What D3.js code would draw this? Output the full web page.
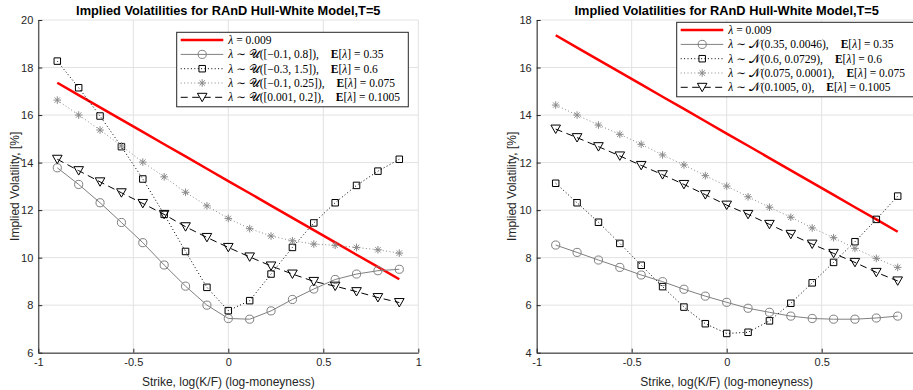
<!DOCTYPE html>
<html>
<head>
<meta charset="utf-8">
<script src="https://cdn.jsdelivr.net/npm/d3@7"></script>
<style>
  body { margin: 0; background: #fff; }
  svg { display: block; }
</style>
</head>
<body>
<div id="chart"></div>
<script>
// log-moneyness strikes, shared by every curve
const strikes = [-0.9, -0.7875, -0.675, -0.5625, -0.45, -0.3375, -0.225, -0.1125, 0,
  0.1125, 0.225, 0.3375, 0.45, 0.5625, 0.675, 0.7875, 0.9];

// lambda = 0.009 (same in both panels)
const constLambda = [17.36, 16.84, 16.32, 15.81, 15.29, 14.77, 14.26, 13.74, 13.22,
  12.71, 12.19, 11.67, 11.16, 10.64, 10.12, 9.61, 9.09];

// left panel: uniform distributions
const uniCircle = [13.78, 13.08, 12.31, 11.48, 10.63, 9.69, 8.80, 8.00, 7.44,
  7.41, 7.76, 8.24, 8.68, 9.08, 9.31, 9.45, 9.51];
const uniSquare = [18.27, 17.15, 15.96, 14.67, 13.31, 11.82, 10.26, 8.75, 7.77,
  8.19, 9.31, 10.43, 11.46, 12.31, 13.04, 13.64, 14.14];
const uniStar = [16.63, 16.00, 15.37, 14.70, 14.02, 13.40, 12.75, 12.18, 11.65,
  11.22, 10.91, 10.71, 10.57, 10.52, 10.43, 10.33, 10.19];
const uniTriangle = [14.14, 13.66, 13.19, 12.73, 12.28, 11.82, 11.30, 10.85, 10.43,
  10.03, 9.65, 9.31, 9.00, 8.80, 8.57, 8.32, 8.11];

// right panel: normal distributions
const normCircle = [8.53, 8.22, 7.90, 7.59, 7.27, 6.99, 6.67, 6.38, 6.12,
  5.87, 5.70, 5.54, 5.44, 5.41, 5.41, 5.46, 5.54];
const normSquare = [11.13, 10.31, 9.49, 8.60, 7.68, 6.78, 5.92, 5.22, 4.81,
  4.86, 5.34, 6.08, 6.94, 7.80, 8.67, 9.61, 10.59];
const normStar = [14.42, 14.00, 13.58, 13.19, 12.77, 12.32, 11.90, 11.45, 11.01,
  10.56, 10.12, 9.70, 9.25, 8.84, 8.39, 7.97, 7.59];
const normTriangle = [13.41, 13.05, 12.67, 12.28, 11.88, 11.49, 11.08, 10.65, 10.21,
  9.82, 9.40, 8.98, 8.57, 8.18, 7.80, 7.38, 7.02];

const xTicks = [-1, -0.5, 0, 0.5, 1];
const leftXTickLabels = ['-1', '-0.5', '0', '0.5', '1'];
// the right panel's last label falls outside the picture
const rightXTickLabels = ['-1', '-0.5', '0', '0.5', ''];
const leftYTicks = [6, 8, 10, 12, 14, 16, 18, 20];
const rightYTicks = [4, 6, 8, 10, 12, 14, 16, 18];

const leftDists = ['𝒰([−0.1, 0.8]),', '𝒰([−0.3, 1.5]),', '𝒰([−0.1, 0.25]),', '𝒰([0.001, 0.2]),'];
const rightDists = ['𝒩(0.35, 0.0046),', '𝒩(0.6, 0.0729),', '𝒩(0.075, 0.0001),', '𝒩(0.1005, 0),'];
const means = ['0.35', '0.6', '0.075', '0.1005'];
const constLabel = '0.009';

const titleText = 'Implied Volatilities for RAnD Hull-White Model,T=5';
const xLabel = 'Strike, log(K/F) (log-moneyness)';
const yLabel = 'Implied Volatility, [%]';

const width = 913, height = 390;
const axisColor = '#262626';
const gridColor = '#e2e2e2';

const svg = d3.select('#chart').append('svg')
  .attr('width', width)
  .attr('height', height)
  .style('font-family', '"Liberation Sans", Arial, sans-serif');

// marker shapes
function markerPath(kind) {
  if (kind === 'circle') return d3.symbol(d3.symbolCircle, 52)();
  if (kind === 'square') return d3.symbol(d3.symbolSquare, 42)();
  if (kind === 'star') {
    const r = 3.8, p = d3.path();
    [0, 45, 90, 135].forEach(a => {
      const t = a * Math.PI / 180;
      p.moveTo(-r * Math.cos(t), -r * Math.sin(t));
      p.lineTo(r * Math.cos(t), r * Math.sin(t));
    });
    return p.toString();
  }
  // downward triangle
  const p = d3.path();
  p.moveTo(-4.8, -4); p.lineTo(4.8, -4); p.lineTo(0, 4.4); p.closePath();
  return p.toString();
}

const styles = [
  { color: '#ff0000', width: 2.5, dash: null, marker: null },
  { color: '#808080', width: 1, dash: null, marker: 'circle' },
  { color: '#000000', width: 1, dash: '1,2.4', marker: 'square' },
  { color: '#8a8a8a', width: 1, dash: '1,2.4', marker: 'star' },
  { color: '#000000', width: 1, dash: '7,4.5', marker: 'triangle' }
];

function drawPanel(opts) {
  const g = svg.append('g');
  const x = d3.scaleLinear().domain([-1, 1]).range(opts.xRange);
  const y = d3.scaleLinear().domain(opts.yDomain).range([352.7, 20]);
  const [x0, x1] = opts.xRange;

  // grid
  g.append('g').selectAll('line')
    .data(xTicks)
    .enter().append('line')
    .attr('x1', d => x(d)).attr('x2', d => x(d))
    .attr('y1', y.range()[0]).attr('y2', y.range()[1])
    .attr('stroke', gridColor).attr('stroke-width', 1);
  g.append('g').selectAll('line')
    .data(opts.yTicks)
    .enter().append('line')
    .attr('x1', x0).attr('x2', x1)
    .attr('y1', d => y(d)).attr('y2', d => y(d))
    .attr('stroke', gridColor).attr('stroke-width', 1);

  // axes
  const xAxis = g.append('g')
    .attr('transform', `translate(0,${y.range()[0]})`)
    .call(d3.axisBottom(x).tickValues(xTicks)
      .tickFormat((d, i) => opts.xTickLabels[i])
      .tickSizeInner(-4).tickSizeOuter(0).tickPadding(6));
  const yAxis = g.append('g')
    .attr('transform', `translate(${x0},0)`)
    .call(d3.axisLeft(y).tickValues(opts.yTicks)
      .tickFormat(d => String(d))
      .tickSizeInner(-4).tickSizeOuter(0).tickPadding(5));
  [xAxis, yAxis].forEach(a => {
    a.select('.domain').attr('stroke', axisColor).attr('stroke-width', 1);
    a.selectAll('.tick line').attr('stroke', axisColor);
    a.selectAll('.tick text').attr('fill', axisColor)
      .style('font-size', '11px')
      .style('font-family', '"Liberation Sans", Arial, sans-serif');
  });

  // labels
  const cx = (x0 + x1) / 2;
  g.append('text')
    .attr('x', cx).attr('y', 14.5)
    .attr('text-anchor', 'middle')
    .style('font-size', '12.8px').style('font-weight', 'bold')
    .text(titleText);
  g.append('text')
    .attr('x', cx).attr('y', 386)
    .attr('text-anchor', 'middle')
    .attr('fill', axisColor)
    .style('font-size', '12px')
    .text(xLabel);
  g.append('text')
    .attr('transform', `translate(${opts.yLabelX},${(y.range()[0] + y.range()[1]) / 2}) rotate(-90)`)
    .attr('text-anchor', 'middle')
    .attr('fill', axisColor)
    .style('font-size', '12px')
    .text(yLabel);

  // series
  const line = d3.line().x((d, i) => x(strikes[i])).y(d => y(d));
  opts.series.forEach((vals, k) => {
    const st = styles[k];
    g.append('path')
      .datum(vals)
      .attr('d', line)
      .attr('fill', 'none')
      .attr('stroke', st.color)
      .attr('stroke-width', st.width)
      .attr('stroke-dasharray', st.dash);
    if (st.marker) {
      g.append('g').selectAll('path')
        .data(vals)
        .enter().append('path')
        .attr('transform', (d, i) => `translate(${x(strikes[i])},${y(d)})`)
        .attr('d', markerPath(st.marker))
        .attr('fill', 'none')
        .attr('stroke', st.color)
        .attr('stroke-width', 1);
    }
  });

  // legend
  const lg = g.append('g').attr('transform', `translate(${opts.legend.x},${opts.legend.y})`);
  lg.append('rect')
    .attr('width', opts.legend.w).attr('height', 74.5)
    .attr('fill', '#fff')
    .attr('stroke', axisColor).attr('stroke-width', 1);
  const rows = [null].concat(opts.dists);
  rows.forEach((dist, k) => {
    const st = styles[k];
    const ry = 7.8 + k * 14.3;
    lg.append('line')
      .attr('x1', 4).attr('x2', 46.6)
      .attr('y1', ry).attr('y2', ry)
      .attr('stroke', st.color)
      .attr('stroke-width', st.width)
      .attr('stroke-dasharray', st.dash);
    if (st.marker) {
      lg.append('path')
        .attr('transform', `translate(25.5,${ry})`)
        .attr('d', markerPath(st.marker))
        .attr('fill', st.marker === 'triangle' ? '#fff' : 'none')
        .attr('stroke', st.color);
    }
    const t = lg.append('text')
      .attr('x', 51.6).attr('y', ry + 4)
      .style('font-family', '"Liberation Serif", "DejaVu Serif", serif')
      .style('font-size', '11.5px')
      .attr('fill', '#000');
    t.append('tspan').style('font-style', 'italic').text('λ');
    if (dist === null) {
      t.append('tspan').text(' = ' + constLabel);
    } else {
      t.append('tspan').text(' ∼ ' + dist);
      t.append('tspan').attr('dx', 12).style('font-weight', 'bold').text('E');
      t.append('tspan').text('[');
      t.append('tspan').style('font-style', 'italic').text('λ');
      t.append('tspan').text('] = ' + means[k - 1]);
    }
  });
}

drawPanel({
  xRange: [38.3, 418.3],
  yDomain: [6, 20],
  yTicks: leftYTicks,
  xTickLabels: leftXTickLabels,
  yLabelX: 19,
  series: [constLambda, uniCircle, uniSquare, uniStar, uniTriangle],
  dists: leftDists,
  legend: { x: 176.7, y: 32.3, w: 231.6 }
});

drawPanel({
  xRange: [536.7, 916.7],
  yDomain: [4, 18],
  yTicks: rightYTicks,
  xTickLabels: rightXTickLabels,
  yLabelX: 516,
  series: [constLambda, normCircle, normSquare, normStar, normTriangle],
  dists: rightDists,
  legend: { x: 676.7, y: 22.3, w: 245 }
});
</script>
</body>
</html>
